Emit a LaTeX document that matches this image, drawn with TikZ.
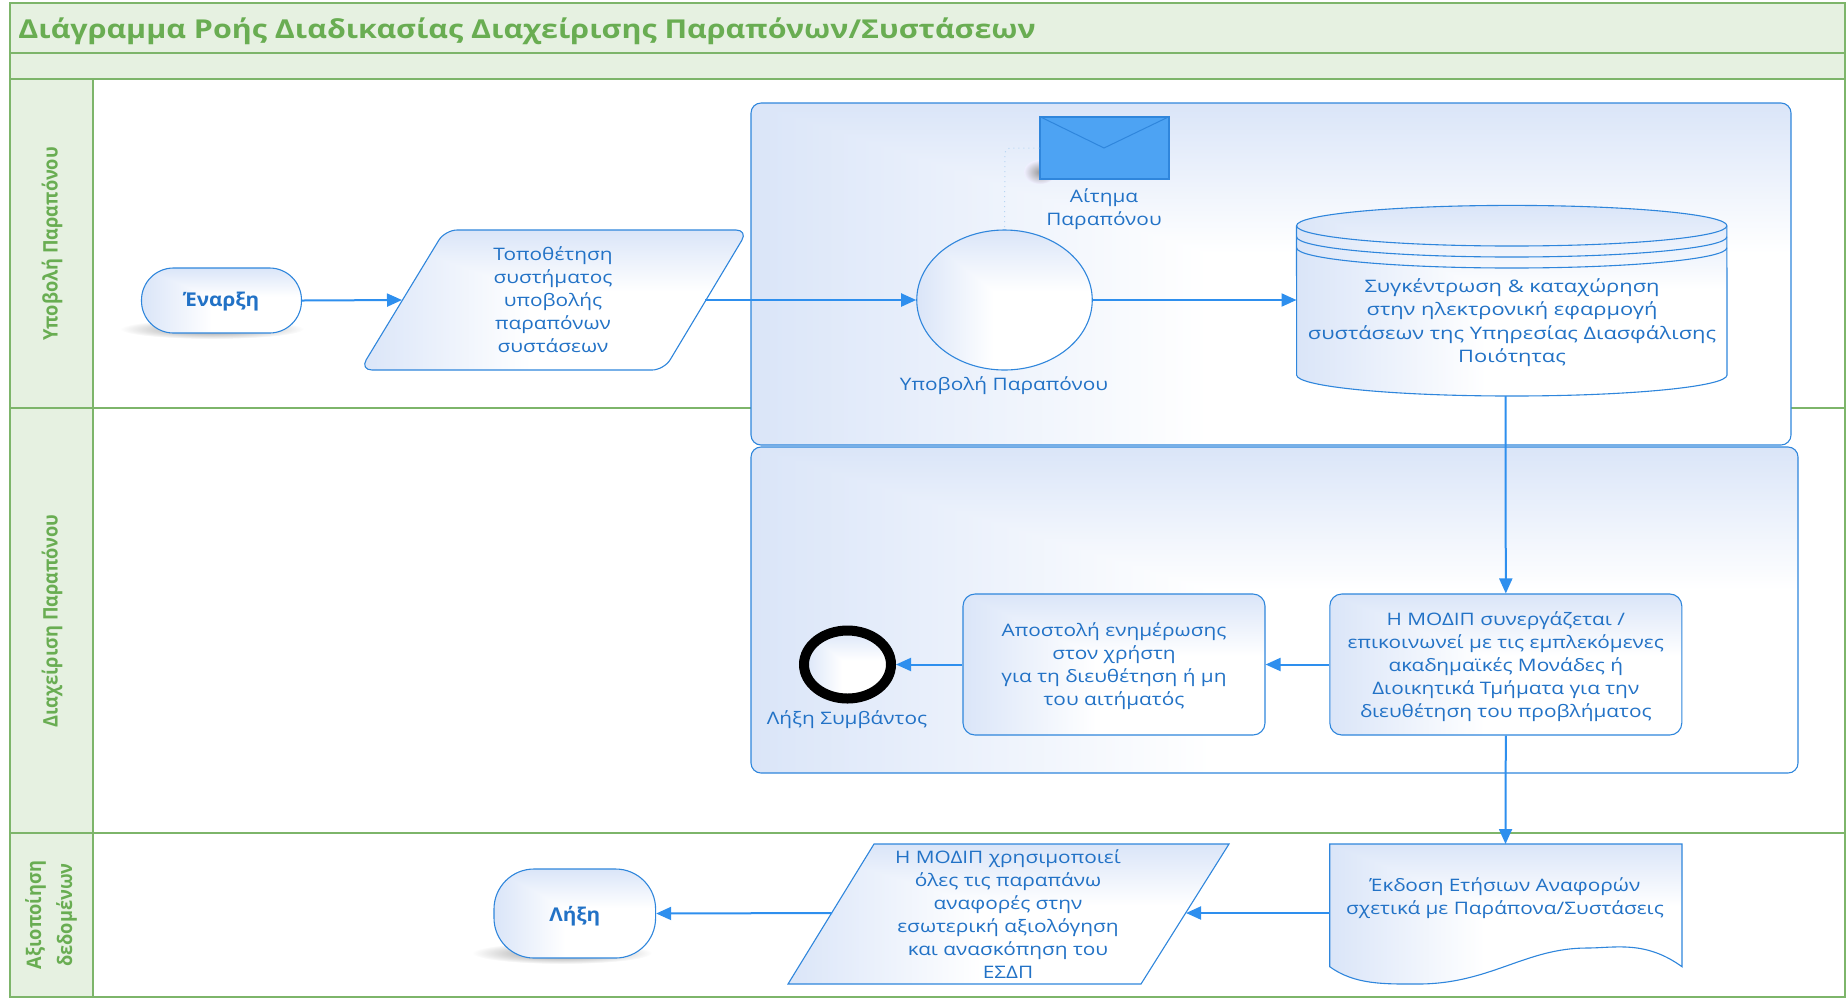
\documentclass[tikz,border=0pt]{standalone}
\usepackage{fontspec}
\setmainfont{Open Sans}
\newfontfamily\bodyf[FakeStretch=1.21]{Open Sans}
\newfontfamily\dbf[FakeStretch=1.27]{Open Sans}
\newfontfamily\titlef[FakeStretch=1.17]{Open Sans}
\newfontfamily\termf[FakeStretch=1.09]{Open Sans}
\newfontfamily\lanef[FakeStretch=0.91]{Open Sans}
\usetikzlibrary{arrows.meta,shapes.geometric,calc}
\definecolor{lanefill}{HTML}{E6F1E1}
\definecolor{laneline}{HTML}{7DB56A}
\definecolor{lanetext}{HTML}{69AD52}
\definecolor{blueline}{HTML}{2F86DC}
\definecolor{bluetext}{HTML}{2272C6}
\definecolor{arrowblue}{HTML}{2E8FEE}
\definecolor{envfill}{HTML}{4DA3F3}
\pgfdeclarefunctionalshading{boxgrad}{\pgfpointorigin}{\pgfpoint{100bp}{100bp}}{}{
  75 exch sub 22 div exch 25 sub 22 div
  2 copy gt {exch} if pop
  dup 1 gt {pop 1} if
  dup 0 lt {pop 0} if
  dup 0.145 mul 0.855 add exch
  dup 0.102 mul 0.898 add exch
  0.027 mul 0.973 add
}
\newcommand{\body}{\bodyf\fontsize{8.6}{11.5}\selectfont}
\tikzset{
  x=0.5pt,y=-0.5pt,
  lane/.style={draw=laneline,fill=lanefill,line width=0.8pt},
  lanelabel/.style={text=lanetext,font=\lanef\fontsize{10}{15.5}\selectfont\bfseries,align=center,rotate=90,inner sep=0pt},
  grad/.style={shading=boxgrad,draw=blueline,line width=0.55pt},
  panel/.style={grad,rectangle,rounded corners=5pt,inner sep=0pt},
  procbox/.style={grad,rectangle,rounded corners=6pt,inner sep=0pt},
  term/.style={grad,rectangle,inner sep=0pt,text=bluetext,font=\termf\fontsize{9.5}{11.5}\selectfont\bfseries},
  label/.style={text=bluetext,font=\body,align=center,inner sep=0pt},
  flow/.style={draw=arrowblue,line width=1pt,-{Triangle[length=7.5pt,width=6.5pt,fill=arrowblue]}},
}
\begin{document}
\begin{tikzpicture}
\useasboundingbox (0,0) rectangle (1847,998);
% swimlanes
\path[lane] (10,3) rectangle (1845,53);
\path[lane] (10,53) rectangle (1845,79);
\path[draw=laneline,line width=0.8pt] (10,79) rectangle (1845,997);
\path[lane] (10,79) rectangle (93,408);
\path[lane] (10,408) rectangle (93,833);
\path[lane] (10,833) rectangle (93,997);
\draw[laneline,line width=0.8pt] (93,408) -- (1845,408) (93,833) -- (1845,833);
\node[anchor=west,inner sep=0pt,text=lanetext,font=\titlef\fontsize{13}{15}\selectfont\bfseries] (title) at (18,31) {Διάγραμμα Ροής Διαδικασίας Διαχείρισης Παραπόνων/Συστάσεων};
\node[lanelabel] (l1) at (52,244) {Υποβολή Παραπόνου};
\node[lanelabel] (l2) at (52,621) {Διαχείριση Παραπόνου};
\node[lanelabel] (l3) at (51,915) {Αξιοποίηση\\δεδομένων};
% panels
\node[panel,minimum width=520pt,minimum height=171pt] (panelA) at (1271,274) {};
\node[panel,minimum width=523.5pt,minimum height=163pt] (panelB) at (1274.5,610) {};
% shadows
\path[shading=radial,inner color=black!45,outer color=white] (212,329) ellipse [x radius=46pt,y radius=5pt];
\path[shading=radial,inner color=black!45,outer color=white] (562,953) ellipse [x radius=45pt,y radius=5.5pt];
\path[shading=radial,inner color=black!40,outer color=blue!6!white] (1040,172) ellipse [x radius=8pt,y radius=6pt];
% start
\node[term,rounded corners=16pt,minimum width=80pt,minimum height=32.5pt] (start) at (221.5,300.5) {\raisebox{-0.6pt}[\height][\depth]{Έναρξη}};
% input 1
\path[grad,rounded corners=6pt] (445,230) -- (748,230) -- (664,370) -- (360,370) -- cycle;
\node[label] (input1) at (553,300) {Τοποθέτηση\\συστήματος\\υποβολής\\παραπόνων\\συστάσεων};
\coordinate (input1w) at (402,300);
\coordinate (input1e) at (705,300);
% envelope
\node[rectangle,draw=blueline,fill=envfill,line width=0.6pt,minimum width=64.5pt,minimum height=31pt,inner sep=0pt] (env) at (1104.5,148) {};
\draw[blueline,line width=0.5pt] (env.north west) -- (1104,148) -- (env.north east);
\node[label] (envlabel) at (1104,209) {Αίτημα\\Παραπόνου};
% event circle
\node[ellipse,grad,minimum width=87.75pt,minimum height=70pt,inner sep=0pt] (event) at (1004.5,300) {};
\node[label] (eventlabel) at (1004,386) {Υποβολή Παραπόνου};
\draw[blueline!35,line width=0.5pt,dotted,rounded corners=3pt] (env.west) -- (1005,148) -- (event.north);
% cylinder
\path[grad] (1296.5,225.7) arc[start angle=180,end angle=0,x radius=107.6pt,y radius=10.15pt] -- (1727,375) arc[start angle=0,end angle=-180,x radius=107.6pt,y radius=10.5pt] -- cycle;
\draw[blueline,line width=0.55pt] (1296.5,225.7) arc[start angle=180,end angle=360,x radius=107.6pt,y radius=10.15pt];
\draw[blueline,line width=0.55pt] (1296.5,236.7) arc[start angle=180,end angle=360,x radius=107.6pt,y radius=10.15pt];
\draw[blueline,line width=0.55pt] (1296.5,247.7) arc[start angle=180,end angle=360,x radius=107.6pt,y radius=10.15pt];
\node[label,font=\dbf\fontsize{8.6}{11.7}\selectfont] (db) at (1512,322.5) {Συγκέντρωση \& καταχώρηση\\στην ηλεκτρονική εφαρμογή\\συστάσεων της Υπηρεσίας Διασφάλισης\\Ποιότητας};
\coordinate (dbw) at (1296.5,300);
\coordinate (dbs) at (1505.5,396);
% boxes
\node[procbox,minimum width=176pt,minimum height=70.5pt] (boxA) at (1505.8,664.5) {};
\node[label] (boxAtext) at (1505.8,666.5) {Η ΜΟΔΙΠ συνεργάζεται /\\επικοινωνεί με τις εμπλεκόμενες\\ακαδημαϊκές Μονάδες ή\\Διοικητικά Τμήματα για την\\διευθέτηση του προβλήματος};
\node[procbox,minimum width=151pt,minimum height=70.5pt] (boxB) at (1114,664.5) {};
\node[label] (boxBtext) at (1114,666.5) {Αποστολή ενημέρωσης\\στον χρήστη\\για τη διευθέτηση ή μη\\του αιτήματός};
% end event
\node[ellipse,shading=boxgrad,draw=black,line width=5pt,minimum width=43.5pt,minimum height=34pt,inner sep=0pt] (endev) at (847.5,664.5) {};
\node[label] (endlabel) at (847,720) {Λήξη Συμβάντος};
% document
\path[grad] (1329.7,844) -- (1682,844) -- (1682,966.7) .. controls (1645,940) and (1615,948) .. (1587,948) .. controls (1525,948) and (1490,984) .. (1418,984) .. controls (1385,984) and (1355,985) .. (1329.7,966.7) -- cycle;
\node[label] (doc) at (1505,898) {Έκδοση Ετήσιων Αναφορών\\σχετικά με Παράπονα/Συστάσεις};
\coordinate (docn) at (1505.5,844);
\coordinate (docw) at (1329.7,913);
% input 2
\path[grad] (874,844) -- (1229,844) -- (1141,984) -- (788,984) -- cycle;
\node[label] (input2) at (1008,914) {Η ΜΟΔΙΠ χρησιμοποιεί\\όλες τις παραπάνω\\αναφορές στην\\εσωτερική αξιολόγηση\\και ανασκόπηση του\\ΕΣΔΠ};
\coordinate (input2e) at (1186,913);
\coordinate (input2w) at (832,913);
% terminator end
\node[term,rounded corners=20pt,minimum width=80.8pt,minimum height=44.5pt] (finish) at (574.8,913.5) {\raisebox{-1.2pt}[\height][\depth]{Λήξη}};
% connectors
\draw[flow] (start.east) -- (input1w);
\draw[flow] (input1e) -- (event.west);
\draw[flow] (event.east) -- (dbw);
\draw[flow] (dbs) -- (boxA.north);
\draw[flow] (boxA.west) -- (boxB.east);
\draw[flow] (boxB.west) -- (endev.east);
\draw[flow] (boxA.south) -- (docn);
\draw[flow] (docw) -- (input2e);
\draw[flow] (input2w) -- (finish.east);
\end{tikzpicture}
\end{document}
